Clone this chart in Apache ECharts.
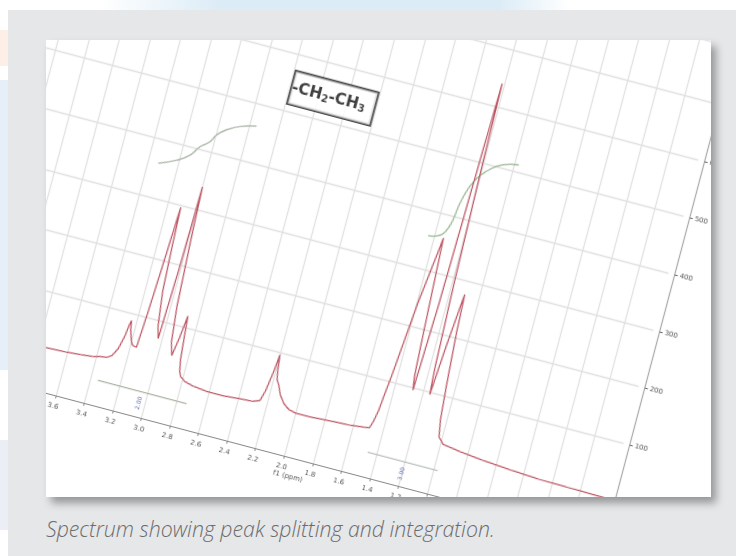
<!DOCTYPE html>
<html>
<head>
<meta charset="utf-8">
<script src="https://cdn.jsdelivr.net/npm/echarts@6/dist/echarts.min.js"></script>
<style>
html,body{margin:0;padding:0;width:736px;height:556px;overflow:hidden;background:#fff;}
.deco{position:absolute;}
#bg{position:absolute;left:8px;top:10px;width:728px;height:546px;background:#e6e7e9;}
#panel{position:absolute;left:46px;top:40px;width:665px;height:457px;background:#fff;overflow:hidden;box-shadow:5px 6px 8px rgba(0,0,0,0.35);}
#rot{position:absolute;left:-46px;top:-40px;width:0;height:0;transform-origin:0 0;transform:rotate(14.8deg);}
#chart{position:absolute;left:0;top:-260px;width:840px;height:740px;filter:blur(0.35px);}
#caption{position:absolute;left:46px;top:516px;font-family:'Open Sans',sans-serif;font-style:italic;font-weight:300;font-size:21.3px;line-height:26px;color:#6b6c6e;white-space:nowrap;}
</style>
</head>
<body>
<div class="deco" style="left:100px;top:0;width:470px;height:10px;background:linear-gradient(90deg,rgba(220,236,246,0),#dcecf6 25%,#dcecf6 85%,rgba(220,236,246,0));"></div>
<div class="deco" style="left:0;top:30px;width:8px;height:36px;background:#fdeee6;"></div>
<div class="deco" style="left:0;top:80px;width:8px;height:290px;background:#e6eef8;"></div>
<div class="deco" style="left:0;top:440px;width:8px;height:90px;background:#eceef6;"></div>
<div id="bg"></div>
<div id="panel"><div id="rot"><div id="chart"></div></div></div>
<div id="caption">Spectrum showing peak splitting and integration.</div>
<script>
// ---- data ----
const spectrumPpm = [4.40,4.20,4.00,3.85,3.75,3.60,3.50,3.42,3.377,3.33,3.30,3.272,3.25,3.240,3.233,3.222,3.20,3.185,3.155,3.14,3.125,3.107,3.095,3.08,3.05,3.028,3.012,3.000,2.985,2.96,2.935,2.910,2.89,2.872,2.86,2.845,2.83,2.815,2.78,2.72,2.62,2.50,2.40,2.30,2.255,2.235,2.215,2.202,2.19,2.178,2.168,2.158,2.13,2.09,2.05,2.00,1.90,1.76,1.62,1.52,1.49,1.475,1.46,1.45,1.435,1.39,1.345,1.334,1.32,1.30,1.285,1.271,1.25,1.228,1.217,1.205,1.185,1.165,1.153,1.13,1.105,1.097,1.085,1.06,1.04,1.019,0.98,0.857,0.70,0.50,0.30,0.10,-0.09,-0.2];
const spectrumIntensity = [3,3,4,5,6,8,10,12,15,17,22,36,60,80,88,72,55,48,46,110,190,296,225,150,90,70,190,339,250,130,70,48,80,120,85,45,25,17,11,7,4,4,6,8,12,30,65,96,70,54,56,46,30,17,10,7,7,9,11,14,15,28,48,75,110,240,335,360,290,190,120,96,250,520,640,480,280,140,96,180,255,276,210,120,60,30,20,15,11,7,4,3,2.5,2];
const quartetIntegralPpm = [3.33,3.215,3.137,3.086,3.029,2.997,2.94,2.859,2.751];
const quartetIntegralValue = [359,372,386,404,417,431,444,455,463];
const tripletIntegralPpm = [1.438,1.335,1.279,1.232,1.158,1.076,0.968];
const tripletIntegralValue = [357,370,433,467,491,506,513];
const integralRanges = [[3.35,2.73],[1.46,0.97]];
const integralLevels = [-25,-26];
const integralLabelPpm = [3.04,1.20];
const integralLabelLevel = [-45,-47];
const integralLabels = ['2.00','3.00'];
const groupLabel = {ppm:2.30, value:542, parts:['-CH','2','-CH','3']};
const yTickLabels = [100,200,300,400,500,600,700,800];

// ---- build ----
const pairs = (xs, ys) => xs.map((x,i)=>[x, ys[i]]);
const gridLine = {color:'#e0e0e0', width:1.3};

const chart = echarts.init(document.getElementById('chart'), null, {renderer:'canvas', width:840, height:740});
const option = {
  animation:false,
  backgroundColor:'transparent',
  textStyle:{fontFamily:'DejaVu Sans'},
  grid:[
    {left:36.74, right:123.84, top:59.9, height:528.1},
    {left:36.74, right:123.84, top:588, height:40}
  ],
  xAxis:[
    {gridIndex:0, type:'value', inverse:true, min:-0.2, max:4.4, interval:0.2,
     axisLine:{show:false, onZero:false}, axisTick:{show:false}, axisLabel:{show:false},
     splitLine:{show:true, showMinLine:false, lineStyle:gridLine}},
    {gridIndex:1, type:'value', inverse:true, min:-0.2, max:4.4, interval:0.2,
     axisLine:{show:true, onZero:false, lineStyle:{color:'#8a8a8a', width:1.2}},
     axisTick:{show:true, length:3, lineStyle:{color:'#8a8a8a'}},
     axisLabel:{show:true, fontSize:7, color:'#555', margin:8, formatter:v=>v.toFixed(1)},
     splitLine:{show:true, showMinLine:false, lineStyle:gridLine},
     name:'f1 (ppm)', nameLocation:'middle', nameGap:15,
     nameTextStyle:{fontSize:7, color:'#555', padding:[0,0,0,47]}}
  ],
  yAxis:[
    {gridIndex:0, type:'value', position:'right', offset:6.5, min:0, max:900, interval:100,
     axisLine:{show:true, onZero:false, lineStyle:{color:'#a8a8a8', width:1.2}},
     axisTick:{show:true, length:3, lineStyle:{color:'#666'}},
     axisLabel:{fontSize:7, color:'#555', margin:5,
       formatter:v => yTickLabels.indexOf(v) >= 0 ? String(v) : ''},
     splitLine:{show:true, showMinLine:false, lineStyle:gridLine}},
    {gridIndex:1, type:'value', position:'right', offset:6.5, min:-68.2, max:0,
     axisLine:{show:true, onZero:false, lineStyle:{color:'#a8a8a8', width:1.2}},
     axisTick:{show:false}, axisLabel:{show:false}, splitLine:{show:false}}
  ],
  series:[
    {type:'line', xAxisIndex:0, yAxisIndex:0, data:pairs(spectrumPpm, spectrumIntensity),
     symbol:'none', lineStyle:{color:'#bd5563', width:1.25}, z:5},
    {type:'line', xAxisIndex:0, yAxisIndex:0, data:pairs(quartetIntegralPpm, quartetIntegralValue),
     symbol:'none', smooth:true, lineStyle:{color:'#a7b2a3', width:1.3}, z:4},
    {type:'line', xAxisIndex:0, yAxisIndex:0, data:pairs(tripletIntegralPpm, tripletIntegralValue),
     symbol:'none', smooth:true, lineStyle:{color:'#9cba96', width:1.3}, z:4},
    {type:'line', xAxisIndex:1, yAxisIndex:1,
     data:[[integralRanges[0][0], integralLevels[0]],[integralRanges[0][1], integralLevels[0]]],
     symbol:'none', lineStyle:{color:'#aab5a2', width:1.2}},
    {type:'line', xAxisIndex:1, yAxisIndex:1,
     data:[[integralRanges[1][0], integralLevels[1]],[integralRanges[1][1], integralLevels[1]]],
     symbol:'none', lineStyle:{color:'#a9afb0', width:1.2}},
    {type:'scatter', xAxisIndex:1, yAxisIndex:1, symbolSize:0,
     data:integralLabelPpm.map((p,i)=>({value:[p, integralLabelLevel[i]], name:integralLabels[i]})),
     label:{show:true, position:'inside', rotate:90, formatter:'{b}', fontSize:6, color:'#3c4ba6'}},
    {type:'scatter', xAxisIndex:0, yAxisIndex:0, symbolSize:0, z:10,
     data:[[groupLabel.ppm, groupLabel.value]],
     label:{show:true, position:'inside',
       formatter:'{a|'+groupLabel.parts[0]+'}{s|'+groupLabel.parts[1]+'}{a|'+groupLabel.parts[2]+'}{s|'+groupLabel.parts[3]+'}',
       backgroundColor:'#fff', borderColor:'#1a1a1a', borderWidth:1.6, padding:[9,9,8,0],
       rich:{a:{fontSize:15.5, fontWeight:'bold', color:'#111', fontFamily:'DejaVu Sans'},
             s:{fontSize:10, fontWeight:'bold', color:'#111', fontFamily:'DejaVu Sans', verticalAlign:'bottom', padding:[6,0,0,0]}}}}
  ]
};
chart.setOption(option);
</script>
</body>
</html>
